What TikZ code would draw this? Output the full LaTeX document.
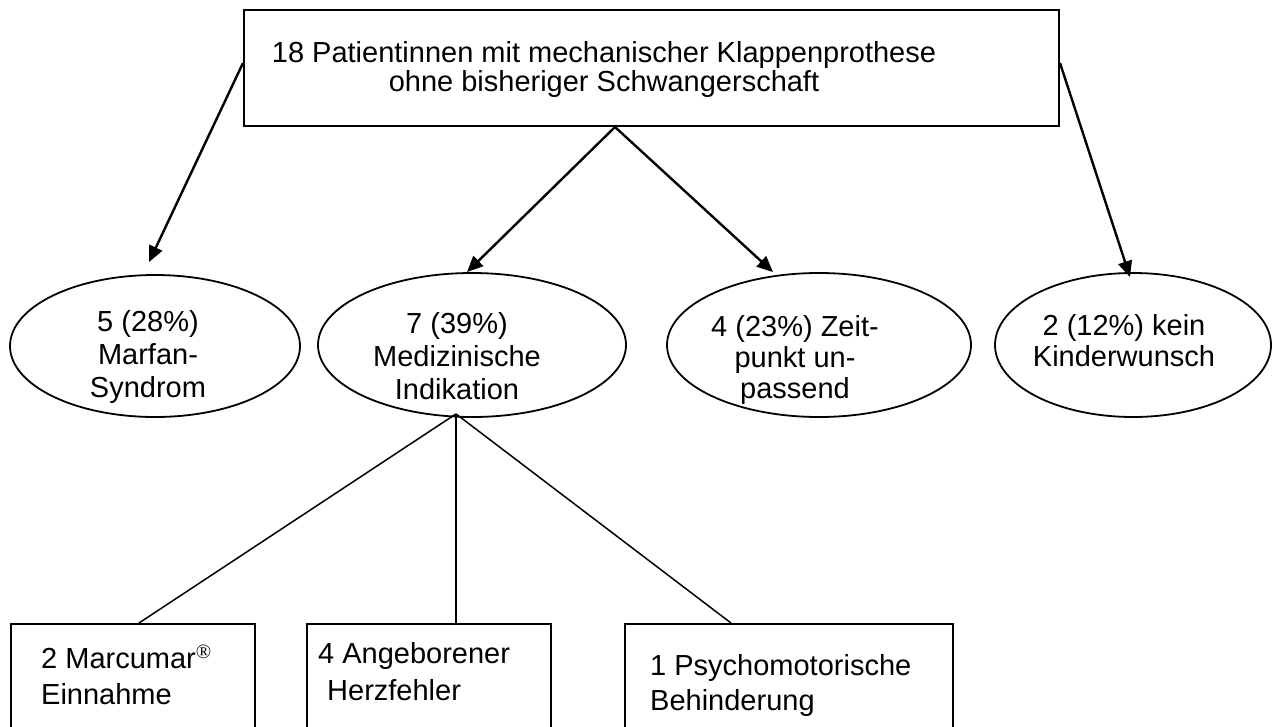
\documentclass[tikz,border=0pt]{standalone}
\usepackage{fontspec}
\setmainfont{Liberation Sans}
\newfontfamily\regfont{Liberation Serif}
\usetikzlibrary{shapes.geometric,arrows.meta}
\begin{document}
\begin{tikzpicture}[x=1pt,y=-1pt,
  txt/.style={font=\fontsize{29}{33}\selectfont, inner sep=0pt, anchor=base},
  boxnode/.style={draw, rectangle, line width=2pt, inner sep=0pt},
  oval/.style={draw, ellipse, line width=1.8pt, inner sep=0pt},
  flow/.style={line width=2.4pt, -{Triangle[length=16pt,width=14pt]}},
  branch/.style={line width=1.5pt}]
\clip (0,0) rectangle (1274,726);
\fill[white] (0,0) rectangle (1274,726);

% top box (text nodes are placed by the baseline of their last line)
\node[boxnode, minimum width=815pt, minimum height=116pt] (top) at (651.5,68) {};
\node[txt, align=center, font=\fontsize{29}{25}\selectfont] (toptext) at (604,91)
  {18 Patientinnen mit mechanischer Klappenprothese\\ohne bisheriger Schwangerschaft};

% second level
\node[oval, minimum width=290pt, minimum height=142pt] (e1) at (155,346) {};
\node[oval, minimum width=308pt, minimum height=144pt] (e2) at (472,345) {};
\node[oval, minimum width=304pt, minimum height=144pt] (e3) at (819,345) {};
\node[oval, minimum width=276pt, minimum height=144pt] (e4) at (1133,345) {};

\node[txt, align=center] (t1) at (148,397) {5 (28\%)\\Marfan-\\Syndrom};
\node[txt, align=center] (t2) at (457,399) {7 (39\%)\\Medizinische\\Indikation};
\node[txt, align=center, font=\fontsize{29}{31}\selectfont] (t3) at (795,398) {4 (23\%) Zeit-\\punkt un-\\passend};
\node[txt, align=center, font=\fontsize{29}{31}\selectfont] (t4) at (1124,366) {2 (12\%) kein\\Kinderwunsch};

% third level
\node[boxnode, minimum width=244pt, minimum height=160pt] (b1) at (133,704) {};
\node[boxnode, minimum width=244pt, minimum height=160pt] (b2) at (429,704) {};
\node[boxnode, minimum width=328pt, minimum height=160pt] (b3) at (789,704) {};

\node[txt, anchor=base west, align=left, font=\fontsize{29}{36}\selectfont] (bt1) at (41,704)
  {2 Marcumar\textsuperscript{\regfont ®}\\Einnahme};
\node[txt, anchor=base west, align=left, font=\fontsize{29}{37}\selectfont] (bt2) at (318,700)
  {4 Angeborener\\\hspace*{9pt}Herzfehler};
\node[txt, anchor=base west, align=left, font=\fontsize{29}{35}\selectfont] (bt3) at (650,710)
  {1 Psychomotorische\\Behinderung};

% arrows from the top box
\coordinate (split) at ([xshift=-36.5pt]top.south);
\draw[flow] ([yshift=5pt]top.west) -- ([xshift=-6pt,yshift=12pt]e1.north);
\draw[flow] (split) -- ([xshift=-5pt]e2.north);
\draw[flow] (split) -- ([xshift=-46pt]e3.north);
\draw[flow] ([yshift=5pt]top.east) -- ([xshift=-3pt,yshift=-5pt]e4.north);

% branches below the medical indication
\coordinate (fork) at ([xshift=-16pt,yshift=4pt]e2.south);
\draw[branch] (fork) -- ([xshift=6pt]b1.north);
\draw[branch] (fork) -- (fork |- b2.north);
\draw[branch] (fork) -- ([xshift=-58pt]b3.north);
\end{tikzpicture}
\end{document}
